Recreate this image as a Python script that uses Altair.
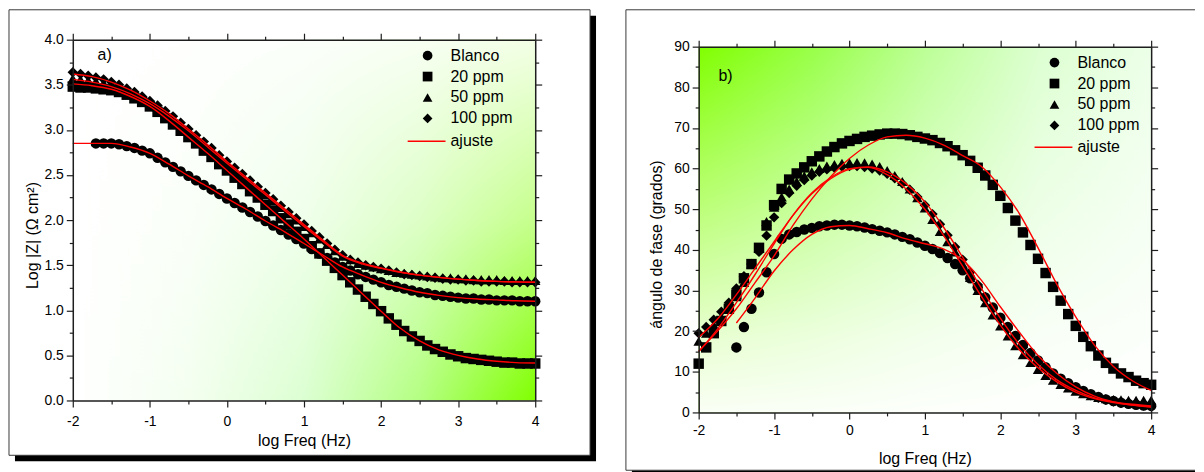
import altair as alt
import pandas as pd

# ---------------- data ----------------
LOGF = [-2.0, -1.9, -1.8, -1.7, -1.6, -1.5, -1.4, -1.3, -1.2, -1.1,
        -1.0, -0.9, -0.8, -0.7, -0.6, -0.5, -0.4, -0.3, -0.2, -0.1,
        0.0, 0.1, 0.2, 0.3, 0.4, 0.5, 0.6, 0.7, 0.8, 0.9,
        1.0, 1.1, 1.2, 1.3, 1.4, 1.5, 1.6, 1.7, 1.8, 1.9,
        2.0, 2.1, 2.2, 2.3, 2.4, 2.5, 2.6, 2.7, 2.8, 2.9,
        3.0, 3.1, 3.2, 3.3, 3.4, 3.5, 3.6, 3.7, 3.8, 3.9, 4.0]
LOGF_FIT = [-2.0, -1.75, -1.5, -1.25, -1.0, -0.75, -0.5, -0.25, 0.0, 0.25,
            0.5, 0.75, 1.0, 1.25, 1.5, 1.75, 2.0, 2.25, 2.5, 2.75,
            3.0, 3.25, 3.5, 3.75, 4.0]

SERIES = ["Blanco", "20 ppm", "50 ppm", "100 ppm"]
SHAPES = ["circle", "square", "triangle-up", "diamond"]
FIT_LABEL = "ajuste"

X_TICKS = [-2, -1.5, -1, -0.5, 0, 0.5, 1, 1.5, 2, 2.5, 3, 3.5, 4]
Y_TICKS_A = [0, 0.25, 0.5, 0.75, 1, 1.25, 1.5, 1.75, 2, 2.25, 2.5, 2.75,
             3, 3.25, 3.5, 3.75, 4]
Y_TICKS_B = [0, 5, 10, 15, 20, 25, 30, 35, 40, 45, 50, 55, 60, 65, 70,
             75, 80, 85, 90]

# Panel a) : Log |Z|
Z_BLANCO = [2.85, 2.85, 2.85, 2.84, 2.82, 2.80, 2.77, 2.74, 2.69, 2.64,
            2.59, 2.54, 2.49, 2.44, 2.39, 2.34, 2.29, 2.24, 2.19, 2.14,
            2.09, 2.04, 1.99, 1.94, 1.89, 1.84, 1.79, 1.74, 1.68, 1.63,
            1.58, 1.53, 1.48, 1.44, 1.40, 1.37, 1.34, 1.31, 1.28, 1.26,
            1.24, 1.22, 1.20, 1.19, 1.17, 1.16, 1.15, 1.14, 1.13, 1.13,
            1.12, 1.12, 1.11, 1.11, 1.11, 1.10, 1.10, 1.10]
Z_20 = [3.48, 3.47, 3.47, 3.46, 3.45, 3.44, 3.42, 3.39, 3.35, 3.31,
        3.26, 3.20, 3.13, 3.06, 2.99, 2.92, 2.85, 2.77, 2.70, 2.62,
        2.55, 2.47, 2.40, 2.32, 2.25, 2.17, 2.10, 2.02, 1.95, 1.87,
        1.79, 1.71, 1.63, 1.55, 1.47, 1.39, 1.31, 1.23, 1.15, 1.07,
        0.99, 0.91, 0.84, 0.77, 0.71, 0.66, 0.61, 0.57, 0.54, 0.51,
        0.49, 0.47, 0.46, 0.45, 0.44, 0.43, 0.42, 0.42, 0.41, 0.41, 0.41]
Z_50 = [3.57, 3.56, 3.55, 3.54, 3.52, 3.50, 3.47, 3.44, 3.40, 3.35,
        3.30, 3.25, 3.19, 3.13, 3.06, 2.99, 2.92, 2.85, 2.78, 2.70,
        2.63, 2.56, 2.49, 2.42, 2.35, 2.28, 2.21, 2.14, 2.07, 2.00,
        1.93, 1.86, 1.79, 1.73, 1.66, 1.60, 1.56, 1.52, 1.50, 1.48,
        1.46, 1.44, 1.42, 1.41, 1.40, 1.39, 1.38, 1.37, 1.36, 1.36,
        1.35, 1.35, 1.34, 1.34, 1.34, 1.34, 1.33, 1.33, 1.33, 1.33, 1.33]
Z_100 = [3.64, 3.62, 3.60, 3.58, 3.56, 3.53, 3.50, 3.46, 3.42, 3.37,
         3.32, 3.27, 3.21, 3.15, 3.08, 3.01, 2.94, 2.87, 2.80, 2.72,
         2.65, 2.58, 2.51, 2.44, 2.37, 2.30, 2.23, 2.16, 2.09, 2.02,
         1.95, 1.88, 1.81, 1.74, 1.67, 1.61, 1.56, 1.53, 1.50, 1.48,
         1.46, 1.44, 1.42, 1.40, 1.39, 1.38, 1.37, 1.36, 1.35, 1.34,
         1.34, 1.33, 1.33, 1.32, 1.32, 1.32, 1.32, 1.31, 1.31, 1.31, 1.31]
ZF_BLANCO = [2.85, 2.85, 2.85, 2.81, 2.74, 2.62, 2.49, 2.37, 2.24, 2.12,
             1.99, 1.87, 1.74, 1.61, 1.48, 1.39, 1.31, 1.25, 1.20, 1.165,
             1.14, 1.125, 1.115, 1.105, 1.10]
ZF_20 = [3.51, 3.49, 3.45, 3.37, 3.26, 3.10, 2.92, 2.74, 2.55, 2.36,
         2.17, 1.98, 1.79, 1.59, 1.39, 1.19, 0.99, 0.80, 0.66, 0.56,
         0.50, 0.46, 0.435, 0.42, 0.415]
ZF_50 = [3.56, 3.53, 3.48, 3.40, 3.29, 3.15, 2.99, 2.81, 2.63, 2.455,
         2.28, 2.105, 1.93, 1.76, 1.60, 1.515, 1.465, 1.42, 1.39, 1.365,
         1.345, 1.33, 1.32, 1.315, 1.31]
ZF_100 = [3.62, 3.59, 3.53, 3.44, 3.32, 3.18, 3.01, 2.835, 2.65, 2.475,
          2.30, 2.125, 1.95, 1.775, 1.61, 1.525, 1.47, 1.425, 1.39, 1.365,
          1.345, 1.33, 1.32, 1.315, 1.31]

# Panel b) : phase angle
PH_BLANCO = [16.0, 21.0, 25.5, 29.5, 34.5, 39.0, 42.7, 43.8, 44.4, 45.0,
             45.4, 45.8, 46.0, 46.2, 46.2, 46.0, 45.8, 45.5, 45.1, 44.7,
             44.3, 43.8, 43.2, 42.6, 41.8, 41.0, 40.2, 39.2, 38.0, 36.5,
             35.0, 33.0, 30.8, 28.3, 25.8, 23.3, 21.0, 18.8, 16.6, 14.6,
             12.8, 11.1, 9.6, 8.3, 7.2, 6.2, 5.3, 4.5, 3.8, 3.2,
             2.8, 2.4, 2.1, 1.9, 1.7, 1.6]
PH_20 = [12.0, 16.0, 19.5, 22.5, 25.5, 29.0, 33.0, 36.5, 40.5, 46.0,
         51.0, 55.0, 57.3, 58.8, 60.3, 61.8, 63.0, 64.2, 65.3, 66.2,
         66.8, 67.3, 67.8, 68.1, 68.4, 68.6, 68.6, 68.5, 68.2, 67.8,
         67.4, 67.0, 66.3, 65.5, 64.5, 63.3, 61.9, 60.2, 58.3, 56.0,
         53.3, 50.3, 47.2, 44.3, 41.2, 37.8, 34.3, 30.9, 27.5, 24.2,
         21.3, 18.6, 16.3, 14.0, 12.2, 10.8, 9.6, 8.7, 7.8, 7.2, 6.8]
PH_50 = [17.5, 19.5, 21.5, 23.5, 26.0, 28.5, 32.0, 36.5, 40.5, 47.0,
         50.5, 53.0, 55.0, 56.8, 58.2, 59.2, 60.0, 60.6, 61.0, 61.3,
         61.4, 61.5, 61.4, 61.1, 60.5, 59.5, 58.3, 56.8, 55.0, 52.8,
         50.3, 47.5, 44.5, 42.0, 39.5, 36.5, 33.2, 30.0, 27.0, 24.0,
         21.3, 18.8, 16.4, 14.2, 12.3, 10.6, 9.1, 7.9, 6.9, 6.0,
         5.2, 4.6, 4.1, 3.7, 3.4, 3.2, 3.1, 3.0, 3.0, 3.0, 3.0]
PH_100 = [19.5, 21.0, 22.8, 24.8, 27.0, 30.5, 33.5, 36.5, 39.5, 43.5,
          48.0, 51.5, 54.0, 55.8, 57.2, 58.3, 59.2, 59.8, 60.2, 60.5,
          60.6, 60.6, 60.4, 60.0, 59.5, 58.7, 57.6, 56.3, 54.8, 53.0,
          51.0, 48.8, 46.3, 43.6, 40.7, 37.6, 34.5, 31.4, 28.4, 25.6,
          23.0, 20.5, 18.2, 16.0, 14.0, 12.2, 10.6, 9.1, 7.8, 6.7,
          5.8, 4.9, 4.2, 3.6, 3.1, 2.7, 2.4, 2.1, 1.9, 1.7, 1.5]
PHF_BLANCO = [22.0, 28.2, 34.8, 40.0, 43.8, 45.7, 46.0, 45.2, 44.2, 42.7,
              41.5, 40.2, 37.5, 32.5, 26.0, 19.8, 14.0, 9.6, 6.3, 4.0,
              2.6, 1.8, 1.3]
PHF_20 = [15.0, 20.0, 25.5, 32.0, 38.5, 46.0, 52.5, 58.0, 62.5, 65.8,
          67.8, 68.2, 67.5, 65.8, 63.2, 60.5, 55.5, 49.0, 40.5, 31.5,
          23.5, 16.5, 11.3, 7.8, 5.4]
PHF_50 = [15.0, 20.5, 27.0, 34.0, 41.5, 48.5, 54.0, 57.8, 60.0, 60.3,
          58.5, 55.0, 50.0, 43.5, 36.0, 28.5, 21.5, 15.5, 11.0, 7.5,
          5.0, 3.4, 2.4, 1.8, 1.4]
PHF_100 = [18.5, 23.0, 29.0, 35.5, 42.0, 48.5, 53.8, 57.5, 59.8, 60.4,
           59.2, 56.3, 51.8, 45.5, 38.2, 30.5, 23.2, 16.8, 11.8, 8.0,
           5.4, 3.6, 2.6, 2.0, 1.6]

# ---------------- helpers ----------------
FONT = "Liberation Sans"
AX = "#1e1e1e"
ONE = pd.DataFrame({"k": [0]})


def long_points(lists):
    rows = []
    for name, vals in zip(SERIES, lists):
        xs = LOGF[len(LOGF) - len(vals):]
        rows += [{"logf": x, "val": v, "serie": name} for x, v in zip(xs, vals)]
    return pd.DataFrame(rows)


def long_fits(lists):
    rows = []
    for name, vals in zip(SERIES, lists):
        xs = LOGF_FIT[len(LOGF_FIT) - len(vals):]
        rows += [{"logf": x, "val": v, "serie": name, "lab": FIT_LABEL}
                 for x, v in zip(xs, vals)]
    return pd.DataFrame(rows)


def linear(x2, y2, stops):
    return {"gradient": "linear", "x1": 0, "y1": 0, "x2": x2, "y2": y2,
            "stops": [{"offset": o, "color": c} for o, c in stops]}


# panel a: white (left) -> green (right), whitened towards the top
GRAD_A_H = linear(1, 0, [(0.0, "#ffffff"), (0.25, "#f4fff0"),
                         (0.5, "#dcffd2"), (0.75, "#b4ff82"),
                         (1.0, "#80ff00")])
GRAD_A_V = linear(0, 1, [(0.0, "rgba(255,255,255,0.9)"),
                         (0.5, "rgba(255,255,255,0.55)"),
                         (1.0, "rgba(255,255,255,0)")])
# panel b: green (left) -> pale (right), whitened towards the bottom
GRAD_B_H = linear(1, 0, [(0.0, "#80ff00"), (0.25, "#98ff48"),
                         (0.5, "#bcff96"), (0.75, "#dcffd0"),
                         (1.0, "#ecffe8")])
GRAD_B_V = linear(0, 1, [(0.0, "rgba(255,255,255,0)"),
                         (0.3, "rgba(255,255,255,0.33)"),
                         (0.55, "rgba(255,255,255,0.58)"),
                         (0.8, "rgba(255,255,255,0.82)"),
                         (1.0, "rgba(255,255,255,0.96)")])


def vrect(x, x2, y, y2, **kw):
    return alt.Chart(ONE).mark_rect(**kw).encode(
        x=alt.value(x), x2=alt.value(x2), y=alt.value(y), y2=alt.value(y2))


def hrule(x, x2, y):
    return alt.Chart(ONE).mark_rule(color="#3a3a3a", strokeWidth=1).encode(
        x=alt.value(x), x2=alt.value(x2), y=alt.value(y))


def vrule(x, y, y2):
    return alt.Chart(ONE).mark_rule(color="#3a3a3a", strokeWidth=1).encode(
        x=alt.value(x), y=alt.value(y), y2=alt.value(y2))


def tsize(test):
    return {"condition": {"test": test, "value": 3.5}, "value": 6.5}


def panel(pts, fits, w, h, top, ydom, yticks, ymajor_test, ylabel_expr,
          ytitle, ytitle_xy, xlabel_pad, xtitle_y, grads, deco, tag, tag_xy,
          leg):
    # 'top' = empty pixels kept above the plotting rectangle inside the view
    common = dict(domainColor=AX, domainWidth=1.5, tickColor=AX, tickWidth=1.2,
                  grid=False, zindex=2, labelFlush=False, labelOverlap=False,
                  labelFontSize=14, labelColor="black", titleColor="black",
                  titleFontSize=16, titleFontWeight="normal", labelFont=FONT,
                  titleFont=FONT)
    vh = h + top
    xs = alt.Scale(domain=[-2, 4], nice=False, zero=False)
    ys = alt.Scale(domain=ydom, range=[vh, top], nice=False, zero=False)
    xtest = "datum.value % 1 !== 0"

    x_bottom = alt.X("logf:Q", scale=xs, axis=alt.Axis(
        orient="bottom", values=X_TICKS, tickSize=tsize(xtest),
        labelExpr="datum.value % 1 === 0 ? '' + datum.value : ''",
        labelPadding=xlabel_pad, title="log Freq (Hz)", titleY=xtitle_y,
        titleBaseline="middle", **common))
    y_left = alt.Y("val:Q", scale=ys, axis=alt.Axis(
        orient="left", values=yticks, tickSize=tsize(ymajor_test),
        labelExpr=ylabel_expr, labelPadding=3, title=ytitle,
        titleX=ytitle_xy[0], titleY=ytitle_xy[1], titleBaseline="middle",
        titleAngle=270, **common))
    x_top = alt.X("logf:Q", scale=xs, axis=alt.Axis(
        orient="top", values=X_TICKS, tickSize=tsize(xtest), labels=False,
        title=None, offset=-top, **common))
    y_right = alt.Y("val:Q", scale=ys, axis=alt.Axis(
        orient="right", values=yticks, tickSize=tsize(ymajor_test),
        labels=False, title=None, **common))

    backgrounds = [
        alt.Chart(ONE).mark_rect(fill=g, strokeWidth=0).encode(
            x=alt.value(0), x2=alt.value(w), y=alt.value(top), y2=alt.value(vh))
        for g in grads
    ]

    points = alt.Chart(pts).mark_point(
        filled=True, size=110, color="black", opacity=1, strokeWidth=0
    ).encode(
        x=x_bottom, y=y_left,
        shape=alt.Shape("serie:N", scale=alt.Scale(domain=SERIES, range=SHAPES),
                        legend=alt.Legend(
                            title=None, orient="none", legendX=leg["sx"],
                            legendY=leg["sy"], symbolSize=95,
                            symbolFillColor="black", symbolStrokeWidth=0,
                            labelFontSize=16, labelFont=FONT,
                            labelColor="black", labelOffset=leg["so"],
                            rowPadding=5, padding=0, zindex=3)),
    )
    lines = alt.Chart(fits).mark_line(
        strokeWidth=1.4, interpolate="monotone"
    ).encode(
        x=x_top, y=y_right,
        color=alt.Color("lab:N", scale=alt.Scale(domain=[FIT_LABEL],
                                                 range=["#ff0000"]),
                        legend=alt.Legend(
                            title=None, orient="none", legendX=leg["lx"],
                            legendY=leg["ly"], symbolType="stroke",
                            symbolSize=1444, symbolStrokeWidth=1.5,
                            labelFontSize=16, labelFont=FONT,
                            labelColor="black", labelOffset=leg["lo"],
                            padding=0, zindex=3)),
        detail="serie:N",
    )
    label = alt.Chart(ONE).mark_text(
        text=tag, font=FONT, fontSize=16, color="black", align="center",
        baseline="middle").encode(x=alt.value(tag_xy[0]), y=alt.value(tag_xy[1]))

    return alt.layer(*deco, *backgrounds, points, lines, label).resolve_axis(
        x="independent", y="independent").properties(width=w, height=vh)


# ---------------- panels ----------------
WA, HA, TA = 464, 362, 0
WB, HB, TB = 454, 367, 7

deco_a = [
    vrect(-58, WA + 61, -24, HA + 61, fill="black", strokeWidth=0),
    vrect(-64, WA + 55, -30, HA + 55, fill="white", stroke="#3a3a3a",
          strokeWidth=1),
]
deco_b = [
    vrect(-67, WB + 44, 432, 438, fill="black", strokeWidth=0),
    vrect(-73, WB + 44, -30, 432, fill="white", strokeWidth=0),
    hrule(-73, WB + 44, -30),
    vrule(-73, -30, 432),
    hrule(-73, WB + 44, 432),
]

chart_a = panel(
    long_points([Z_BLANCO, Z_20, Z_50, Z_100]),
    long_fits([ZF_BLANCO, ZF_20, ZF_50, ZF_100]),
    WA, HA, TA, [0, 4], Y_TICKS_A, "datum.value % 0.5 !== 0",
    "datum.value % 0.5 === 0 ? format(datum.value, '.1f') : ''",
    "Log |Z| (\u03a9 cm\u00b2)", (-40, 196), 7.5, 40,
    [GRAD_A_H, GRAD_A_V], deco_a, "a)", (32, 15),
    dict(sx=348, sy=8, so=15, lx=335, ly=82, lo=4),
)
chart_b = panel(
    long_points([PH_BLANCO, PH_20, PH_50, PH_100]),
    long_fits([PHF_BLANCO, PHF_20, PHF_50, PHF_100]),
    WB, HB, TB, [0, 90], Y_TICKS_B, "datum.value % 10 !== 0",
    "datum.value % 10 === 0 ? '' + datum.value : ''",
    "\u00e1ngulo de fase (grados)", (-42, 205), 4.5, 46,
    [GRAD_B_H, GRAD_B_V], deco_b, "b)", (27, 36),
    dict(sx=349, sy=15, so=15, lx=336, ly=88, lo=4),
)

chart = alt.hconcat(chart_a, chart_b, spacing=28).resolve_scale(
    shape="independent", color="independent", x="independent", y="independent"
).resolve_legend(shape="independent", color="independent").properties(
    padding=0, background="white"
).configure_view(stroke=None).configure(font=FONT)

chart.save("out.html", embed_options={"renderer": "svg", "actions": False})
